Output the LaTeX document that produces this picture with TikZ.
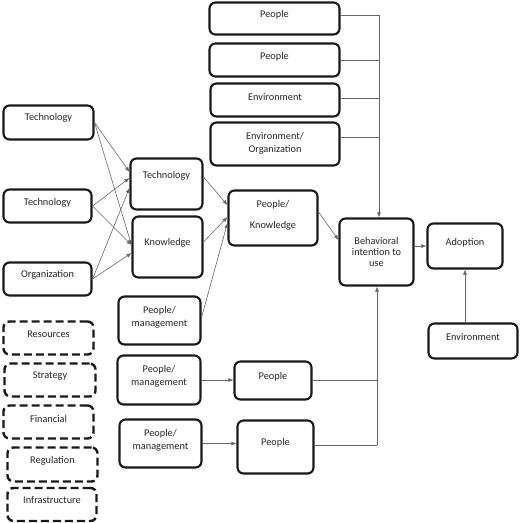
\documentclass[tikz,border=0pt]{standalone}
\usepackage{fontspec}
\setmainfont{Carlito}
\usetikzlibrary{arrows.meta}
\newcommand\mkbox[8]{%
  \node[#1,minimum width=#5pt,minimum height=#6pt] (#2) at (#3,#4) {};
  \node[txt] (#2-t) at ([yshift=#7pt]#2.center) {#8};}
\begin{document}
\begin{tikzpicture}[x=1pt,y=-1pt,
  box/.style={draw=black!90,line width=2.1pt,rounded corners=6pt,inner sep=0pt},
  dbox/.style={box,line width=2.4pt,dash pattern=on 8pt off 4pt},
  txt/.style={font=\fontsize{10.3}{12.4}\selectfont,align=center,inner sep=0pt,text=black!85},
  conn/.style={draw=black!60,line width=0.6pt},
  arr/.style={conn,-{Latex[length=5pt,width=4pt]}}
]
\useasboundingbox (0,0) rectangle (520,523);
% top column
\mkbox{box}{p1}{274.5}{18.5}{130}{32}{3.5}{People}
\mkbox{box}{p2}{274.5}{60}{130}{33}{3}{People}
\mkbox{box}{env1}{275}{100}{129}{33}{3}{Environment}
\mkbox{box}{eo}{275}{144}{129}{43}{0.5}{Environment/\\[0.6pt]Organization}
% left column
\mkbox{box}{t1}{48.5}{122.5}{90}{34}{4.5}{Technology}
\mkbox{box}{t2}{47.5}{206}{88}{33}{3}{Technology}
\mkbox{box}{org}{47.5}{279}{88}{33}{4}{Organization}
% middle
\mkbox{box}{tm}{166.5}{184}{72}{51}{8}{Technology}
\mkbox{box}{kn}{167.5}{247}{70}{61}{4}{Knowledge}
\mkbox{box}{pk}{273}{218}{89}{55}{2.5}{People/\\[9pt]Knowledge}
\mkbox{box}{bi}{376.5}{252}{74}{67}{0}{Behavioral\\[-1.4pt]intention to\\[-1.4pt]use}
\mkbox{box}{ad}{465}{246}{75}{45}{3}{Adoption}
\mkbox{box}{env2}{473}{341}{89}{35}{4}{Environment}
% lower middle
\mkbox{box}{pm1}{159.5}{320.5}{82}{48}{3}{People/\\[0.6pt]management}
\mkbox{box}{pm2}{159}{380}{83}{49}{3.5}{People/\\[0.6pt]management}
\mkbox{box}{pm3}{160.5}{443.5}{82}{48}{3.5}{People/\\[0.6pt]management}
\mkbox{box}{pb1}{273}{380.5}{77}{38}{3.5}{People}
\mkbox{box}{pb2}{275.5}{447}{76}{53}{4}{People}
% dashed
\mkbox{dbox}{res}{48.5}{338}{90}{33}{4}{Resources}
\mkbox{dbox}{str}{50}{380}{91}{33}{4}{Strategy}
\mkbox{dbox}{fin}{48.5}{422}{90}{33}{3}{Financial}
\mkbox{dbox}{reg}{52.5}{464.5}{90}{34}{3.5}{Regulation}
\mkbox{dbox}{inf}{52}{504.5}{89}{33}{4}{Infrastructure}
% left connectors
\draw[arr] (t1.east) -- ([yshift=12pt]tm.west);
\draw[arr] (t1.east) -- ([yshift=2pt]kn.west);
\draw[arr] (t2.east) -- ([yshift=6pt]tm.west);
\draw[arr] (t2.east) -- ([yshift=2pt]kn.west);
\draw[arr] (org.east) -- ([yshift=-4pt]tm.west);
\draw[arr] (org.east) -- ([yshift=-6pt]kn.west);
\draw[arr] ([yshift=7pt]tm.east) -- ([yshift=13pt]pk.west);
\draw[arr] ([yshift=5pt]kn.east) -- ([yshift=1pt]pk.west);
\draw[arr] ([yshift=3pt]pm1.east) -- ([yshift=-5pt]pk.west);
\draw[arr] ([yshift=6pt]pk.east) -- ([yshift=12pt]bi.west);
\draw[arr] (ad.west -| bi.east) -- (ad.west);
\draw[arr] (ad.south |- env2.north) -- (ad.south);
\draw[arr] (pm2.east) -- (pm2.east -| pb1.west);
\draw[arr] (pm3.east) -- (pm3.east -| pb2.west);
% top bus
\coordinate (tbus) at (379,15);
\draw[conn] ([yshift=3.5pt]p1.east) -- (tbus);
\draw[conn] (p2.east) -- (p2.east -| tbus);
\draw[conn] ([yshift=2pt]env1.east) -- ([yshift=2pt]env1.east -| tbus);
\draw[conn] ([yshift=7pt]eo.east) -- ([yshift=7pt]eo.east -| tbus);
\draw[arr] (tbus) -- (tbus |- bi.north);
% bottom bus
\coordinate (bbus) at (377,445);
\draw[conn] (pb1.east) -- (pb1.east -| bbus);
\draw[conn] ([yshift=2pt]pb2.east) -- (bbus);
\draw[arr] (bbus) -- (bbus |- bi.south);
\end{tikzpicture}
\end{document}
